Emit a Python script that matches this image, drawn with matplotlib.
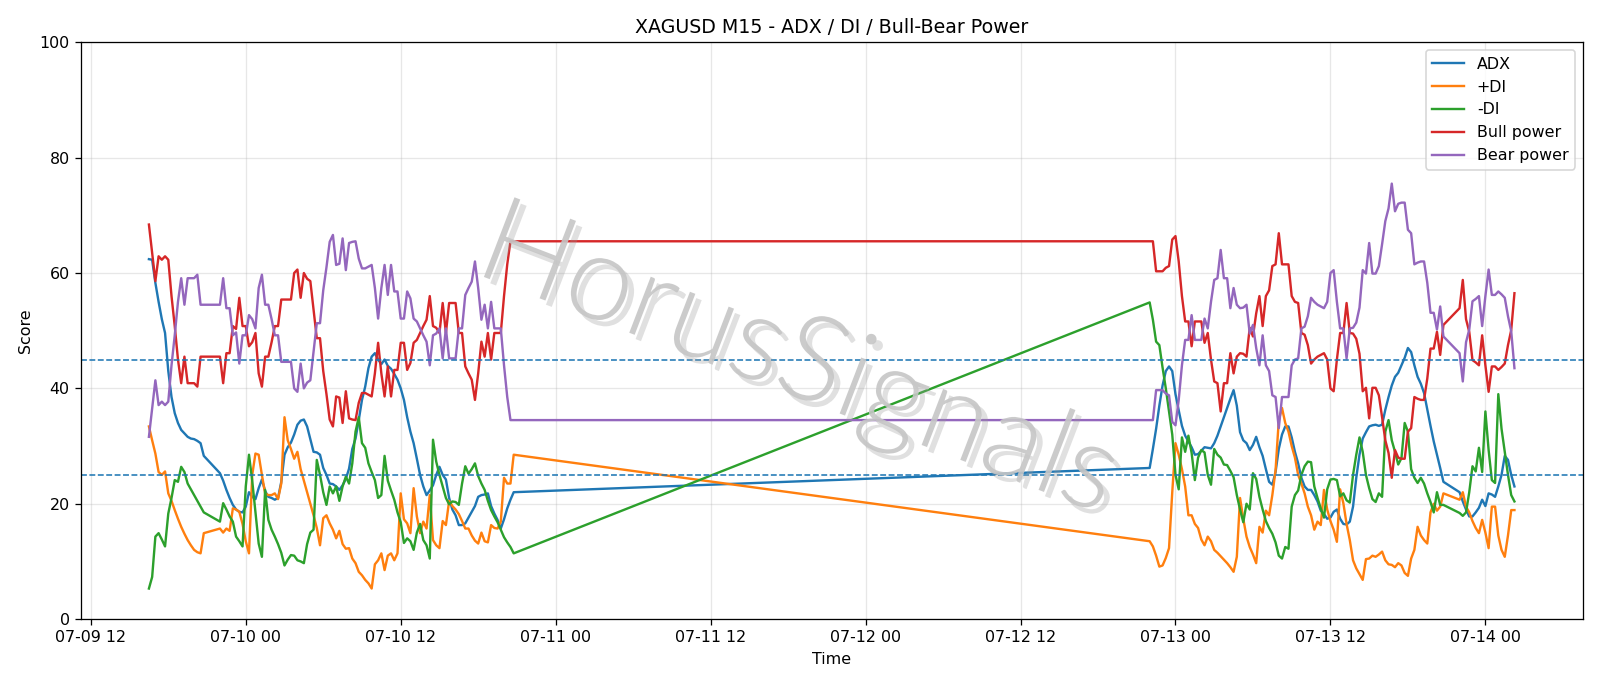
import numpy as np
import pandas as pd
import matplotlib
matplotlib.use("Agg")
import matplotlib.pyplot as plt
import matplotlib.dates as mdates
import matplotlib.patheffects as pe

# ==================== 数据 ====================
# M15 bars, four trading blocks (daily break 21:00-22:00, weekend gap)
times = pd.DatetimeIndex(
    list(pd.date_range("2026-07-09 16:30", "2026-07-09 20:45", freq="15min"))
    + list(pd.date_range("2026-07-09 22:00", "2026-07-10 20:45", freq="15min"))
    + list(pd.date_range("2026-07-12 22:00", "2026-07-13 20:45", freq="15min"))
    + list(pd.date_range("2026-07-13 22:00", "2026-07-14 02:15", freq="15min"))
)

adx = [
    62.4, 62.3, 58.3, 55.0, 52.0, 49.6, 43.0, 38.5, 35.7, 34.0, 32.8, 32.2, 31.6, 31.3, 31.2, 30.9, 30.5, 28.3,
    25.3, 24.0, 22.4, 21.0, 19.8, 19.0, 18.6, 18.5, 19.5, 22.0, 21.2, 20.8, 22.7, 24.2, 22.2, 21.2,
    21.0, 20.7, 21.0, 23.8, 28.5, 29.8, 30.6, 32.0, 33.7, 34.4, 34.6, 33.4, 31.2, 29.0, 28.9, 28.5,
    26.2, 25.0, 23.5, 23.4, 23.0, 22.4, 23.2, 24.3, 26.1, 29.5, 31.3, 34.5, 38.0, 40.3, 43.5, 45.5,
    46.1, 45.0, 44.2, 45.0, 43.9, 43.4, 42.5, 41.5,
    40.0, 38.0, 35.0, 32.5, 30.5, 27.8, 25.0, 23.0, 21.5, 22.3, 23.2, 25.0, 26.4, 25.0, 24.2, 21.0,
    19.0, 18.0, 16.3, 16.3, 16.6, 17.6, 18.6, 19.6, 21.2, 21.5, 21.6, 21.8, 19.6, 18.3, 17.2, 15.7,
    17.3, 19.2, 20.7, 22.0,
    26.2, 29.5, 33.0, 37.0, 40.5, 43.0, 43.8, 43.0, 39.0, 36.2, 33.5, 31.8, 30.8, 29.8, 28.5, 28.6,
    29.2, 29.8, 29.7, 29.6, 30.5, 31.8, 33.4, 35.0, 36.6, 38.2, 39.7, 37.0, 32.4, 31.0, 30.5, 29.3,
    30.2, 31.6, 29.8, 28.3,
    26.0, 23.8, 23.3, 25.5, 29.5, 32.0, 33.4, 33.4, 31.5, 29.0, 27.0, 24.5, 23.0, 22.4, 22.4, 21.5,
    20.4, 18.8, 18.2, 17.4, 17.6, 18.6, 19.0, 17.4, 16.5, 16.4, 16.9, 19.5, 24.5, 28.5, 31.3, 32.4,
    33.4, 33.6, 33.7, 33.5, 33.7, 36.3, 38.5, 40.5,
    42.0, 42.7, 44.0, 45.3, 47.0, 46.3, 44.0, 42.0, 40.8, 39.2, 36.3, 33.5, 30.8, 28.5, 26.2, 23.8,
    22.0, 20.4, 19.0, 17.8, 17.8, 18.5, 19.3, 20.7, 19.6, 21.8, 21.6, 21.2, 23.0, 25.0, 28.3, 27.6, 25.0, 23.0,
]

plus_di = [
    33.4, 31.0, 28.7, 25.5, 25.0, 25.6, 21.8, 20.5, 18.9, 17.4, 16.0, 14.8, 13.7, 12.8, 12.0, 11.6, 11.4, 14.9,
    15.7, 15.0, 15.7, 15.3, 19.2, 19.0, 18.6, 16.5, 13.5, 11.4, 25.0, 28.7, 28.5, 25.0, 21.8, 21.5,
    21.5, 21.8, 20.8, 23.5, 35.0, 31.0, 29.5, 27.8, 29.0, 26.0, 24.0, 22.0, 20.0, 18.0, 15.8, 12.8,
    17.5, 18.0, 16.6, 15.5, 14.0, 15.3, 13.0, 12.2, 12.3, 10.5, 9.7, 8.2, 7.6, 6.8, 6.2, 5.3,
    9.5, 10.2, 11.4, 8.5, 11.0, 11.4, 10.2, 11.4,
    21.8, 17.3, 16.6, 14.9, 22.7, 17.8, 14.9, 16.9, 15.7, 21.5, 13.7, 12.8, 12.3, 17.0, 16.3, 20.5,
    19.6, 19.0, 18.2, 17.0, 15.7, 15.7, 14.5, 13.6, 13.1, 15.0, 13.5, 13.3, 16.3, 15.8, 15.7, 16.9,
    24.5, 23.5, 23.5, 28.5,
    13.5, 12.6, 11.0, 9.1, 9.3, 10.6, 12.3, 22.0, 30.5, 28.5, 26.0, 23.0, 18.0, 18.0, 16.5, 15.8,
    13.8, 12.8, 14.3, 13.5, 12.0, 11.5, 10.9, 10.3, 9.7, 9.0, 8.2, 10.8, 21.0, 17.4, 14.3, 12.5,
    11.2, 9.7, 16.0, 15.0,
    18.8, 18.0, 21.5, 25.8, 34.5, 36.6, 34.0, 32.5, 30.0, 28.0, 25.0, 23.5, 21.8, 19.5, 18.0, 15.5,
    16.9, 16.3, 22.4, 19.0, 17.0, 15.5, 13.4, 22.5, 20.1, 16.5, 13.7, 10.2, 8.8, 7.8, 6.8, 10.4,
    10.5, 11.0, 10.8, 11.2, 11.7, 10.2, 9.5, 9.4,
    9.0, 9.7, 9.3, 8.0, 7.5, 10.5, 12.0, 16.0, 14.5, 13.7, 13.1, 18.5, 20.0, 18.8, 19.5, 21.8,
    20.7, 22.0, 19.5, 18.5, 17.0, 15.8, 14.9, 17.2, 15.0, 12.3, 19.5, 19.5, 14.5, 12.0, 10.8, 14.5, 18.9, 18.9,
]

minus_di = [
    5.3, 7.3, 14.3, 14.9, 13.8, 12.6, 18.3, 21.0, 24.1, 23.8, 26.4, 25.5, 23.5, 22.5, 21.5, 20.5, 19.5, 18.5,
    16.9, 20.1, 19.0, 17.8, 16.9, 14.3, 13.5, 12.6, 23.0, 28.5, 24.0, 18.5, 13.1, 10.8, 22.4, 17.2,
    15.5, 14.3, 13.0, 11.5, 9.3, 10.3, 11.1, 11.0, 10.2, 10.0, 9.7, 13.0, 15.0, 15.5, 27.6, 25.0,
    22.0, 19.8, 23.0, 21.8, 23.0, 20.5, 23.0, 24.7, 23.5, 27.0, 32.5, 35.0, 30.5, 29.7, 27.0, 25.5,
    24.1, 21.0, 21.5, 28.3, 24.0, 22.3, 20.7, 18.5,
    16.8, 13.2, 14.0, 13.5, 12.0, 15.0, 16.5, 13.7, 12.8, 10.5, 31.1, 27.3, 25.0, 23.0, 21.0, 19.9,
    20.4, 20.3, 19.8, 23.5, 26.5, 25.2, 26.0, 27.0, 24.8, 23.5, 22.4, 20.5, 18.9, 17.8, 16.8, 15.5,
    14.2, 13.3, 12.5, 11.4,
    54.9, 51.9, 48.1, 47.5, 43.6, 40.0, 36.0, 32.0, 25.0, 22.5, 31.5, 29.0, 31.8, 28.8, 24.1, 28.0,
    29.3, 28.9, 25.0, 23.3, 29.5, 28.5, 28.0, 26.8, 26.7, 25.7, 24.6, 21.5, 19.0, 16.8, 20.0, 19.0,
    25.3, 24.3, 21.2, 19.0,
    17.0, 15.8, 14.8, 13.3, 11.0, 10.5, 12.5, 12.2, 19.5, 21.5, 22.3, 25.0, 26.5, 27.3, 27.2, 23.0,
    21.0, 19.2, 17.6, 22.5, 24.2, 24.3, 24.1, 21.3, 21.8, 20.6, 20.2, 25.0, 28.5, 31.5, 29.0, 25.0,
    22.7, 20.8, 20.3, 21.8, 21.2, 32.5, 34.5, 31.0,
    29.0, 26.8, 27.9, 34.0, 32.5, 26.0, 24.5, 23.6, 24.5, 23.5, 21.8, 20.3, 18.5, 22.0, 19.8, 19.8,
    18.4, 17.9, 18.5, 22.0, 26.5, 25.6, 29.7, 25.5, 36.0, 29.3, 24.1, 23.6, 39.0, 33.0, 29.0, 25.0, 21.5, 20.4,
]

bull_power = [
    68.4, 63.5, 58.6, 62.9, 62.3, 62.9, 62.3, 56.0, 50.8, 45.0, 40.9, 45.5, 40.9, 40.9, 40.9, 40.3, 45.5, 45.5,
    45.5, 40.9, 46.1, 46.1, 50.8, 50.3, 55.7, 50.8, 50.8, 47.3, 48.0, 49.6, 42.6, 40.3, 45.5, 45.5,
    48.0, 50.8, 50.8, 55.4, 55.4, 55.4, 55.4, 60.0, 60.6, 55.7, 60.0, 59.0, 58.6, 53.6, 48.7, 48.7,
    43.0, 39.0, 34.6, 33.4, 38.6, 38.4, 34.0, 39.5, 34.8, 34.6, 34.5, 37.5, 39.2, 39.2, 38.9, 38.6,
    42.6, 47.9, 42.6, 38.6, 43.8, 38.6, 43.2, 43.2,
    47.9, 47.9, 43.2, 44.4, 47.9, 48.4, 49.6, 50.8, 51.9, 56.0, 50.8, 50.5, 49.6, 54.8, 49.6, 54.8,
    54.8, 54.8, 49.6, 49.6, 43.8, 42.6, 41.5, 38.0, 42.6, 48.1, 45.5, 49.6, 45.0, 49.6, 49.6, 49.6,
    56.0, 61.5, 65.5, 65.5,
    65.5, 65.5, 60.3, 60.3, 60.3, 60.9, 61.2, 65.8, 66.4, 62.0, 56.0, 51.6, 51.6, 47.3, 51.6, 51.6,
    51.6, 47.9, 49.6, 45.0, 41.2, 40.9, 36.0, 40.9, 40.9, 46.1, 42.6, 45.5, 46.1, 46.0, 45.5, 50.5,
    49.0, 53.0, 56.0, 50.8,
    56.0, 57.0, 61.2, 61.5, 66.9, 61.5, 61.5, 61.5, 56.0, 55.0, 54.8, 49.6, 49.3, 47.5, 44.3, 45.0,
    45.5, 45.8, 46.1, 45.0, 40.0, 39.5, 45.0, 49.6, 49.6, 54.8, 49.6, 49.5, 48.6, 46.0, 39.5, 40.1,
    34.8, 40.1, 40.1, 38.8, 35.0, 31.0, 28.8, 24.5,
    29.3, 28.0, 27.8, 27.8, 32.5, 33.1, 38.5, 38.2, 38.0, 38.0, 41.7, 46.9, 46.9, 49.8, 45.8, 51.0,
    53.9, 58.8, 52.0, 49.8, 44.9, 44.5, 44.0, 49.2, 44.0, 39.4, 43.8, 43.8, 43.2, 43.7, 44.3, 47.5, 50.1, 56.5,
]

bear_power = [
    31.6, 36.5, 41.4, 37.1, 37.7, 37.1, 37.7, 44.0, 49.2, 55.0, 59.1, 54.5, 59.1, 59.1, 59.1, 59.7, 54.5, 54.5,
    54.5, 59.1, 53.9, 53.9, 49.2, 49.7, 44.3, 49.2, 49.2, 52.7, 52.0, 50.4, 57.4, 59.7, 54.5, 54.5,
    52.0, 49.2, 49.2, 44.6, 44.6, 44.6, 44.6, 40.0, 39.4, 44.3, 40.0, 41.0, 41.4, 46.4, 51.3, 51.3,
    57.0, 61.0, 65.4, 66.6, 61.4, 61.6, 66.0, 60.5, 65.2, 65.4, 65.5, 62.5, 60.8, 60.8, 61.1, 61.4,
    57.4, 52.1, 57.4, 61.4, 56.2, 61.4, 56.8, 56.8,
    52.1, 52.1, 56.8, 55.6, 52.1, 51.6, 50.4, 49.2, 48.1, 44.0, 49.2, 49.5, 50.4, 45.2, 50.4, 45.2,
    45.2, 45.2, 50.4, 50.4, 56.2, 57.4, 58.5, 62.0, 57.4, 51.9, 54.5, 50.4, 55.0, 50.4, 50.4, 50.4,
    44.0, 38.5, 34.5, 34.5,
    34.5, 34.5, 39.7, 39.7, 39.7, 39.1, 38.8, 34.2, 33.6, 38.0, 44.0, 48.4, 48.4, 52.7, 48.4, 48.4,
    48.4, 52.1, 50.4, 55.0, 58.8, 59.1, 64.0, 59.1, 59.1, 53.9, 57.4, 54.5, 53.9, 54.0, 54.5, 49.5,
    51.0, 47.0, 44.0, 49.2,
    44.0, 43.0, 38.8, 38.5, 33.1, 38.5, 38.5, 38.5, 44.0, 45.0, 45.2, 50.4, 50.7, 52.5, 55.7, 55.0,
    54.5, 54.2, 53.9, 55.0, 60.0, 60.5, 55.0, 50.4, 50.4, 45.2, 50.4, 50.5, 51.4, 54.0, 60.5, 59.9,
    65.2, 59.9, 59.9, 61.2, 65.0, 69.0, 71.2, 75.5,
    70.7, 72.0, 72.2, 72.2, 67.5, 66.9, 61.5, 61.8, 62.0, 62.0, 58.3, 53.1, 53.1, 50.2, 54.2, 49.0,
    46.1, 41.2, 48.0, 50.2, 55.1, 55.5, 56.0, 50.8, 56.0, 60.6, 56.2, 56.2, 56.8, 56.3, 55.7, 52.5, 49.9, 43.5,
]

levels = [25, 45]
watermark = "HorusSignals"

# ==================== 绘图 ====================
fig, ax = plt.subplots(figsize=(14, 6.003), dpi=1600 / 14)
fig.subplots_adjust(left=0.0504, right=0.9892, bottom=0.0975, top=0.9383)

ax.plot(times, adx, label="ADX")
ax.plot(times, plus_di, label="+DI")
ax.plot(times, minus_di, label="-DI")
ax.plot(times, bull_power, label="Bull power")
ax.plot(times, bear_power, label="Bear power")

for lv in levels:
    ax.axhline(lv, color="C0", linestyle="--", linewidth=1.0)

ax.set_ylim(0, 100)
ax.set_title("XAGUSD M15 - ADX / DI / Bull-Bear Power")
ax.set_xlabel("Time")
ax.set_ylabel("Score")
ax.xaxis.set_major_locator(mdates.HourLocator(byhour=[0, 12]))
ax.xaxis.set_major_formatter(mdates.DateFormatter("%m-%d %H"))
ax.grid(True, alpha=0.3)
ax.legend(loc="upper right")

# 水印（细体浅灰 + 阴影）
ax.text(0.478, 0.445, watermark, transform=ax.transAxes, fontsize=76,
        family=["Lato", "DejaVu Sans"], fontweight=300, color="#c6c6c6", alpha=0.9,
        ha="center", va="center", rotation=-21, rotation_mode="anchor",
        path_effects=[pe.SimplePatchShadow(offset=(4, -4), shadow_rgbFace="#9a9a9a", alpha=0.3),
                      pe.Normal()],
        zorder=5)

plt.savefig("out.png", dpi=1600 / 14)
